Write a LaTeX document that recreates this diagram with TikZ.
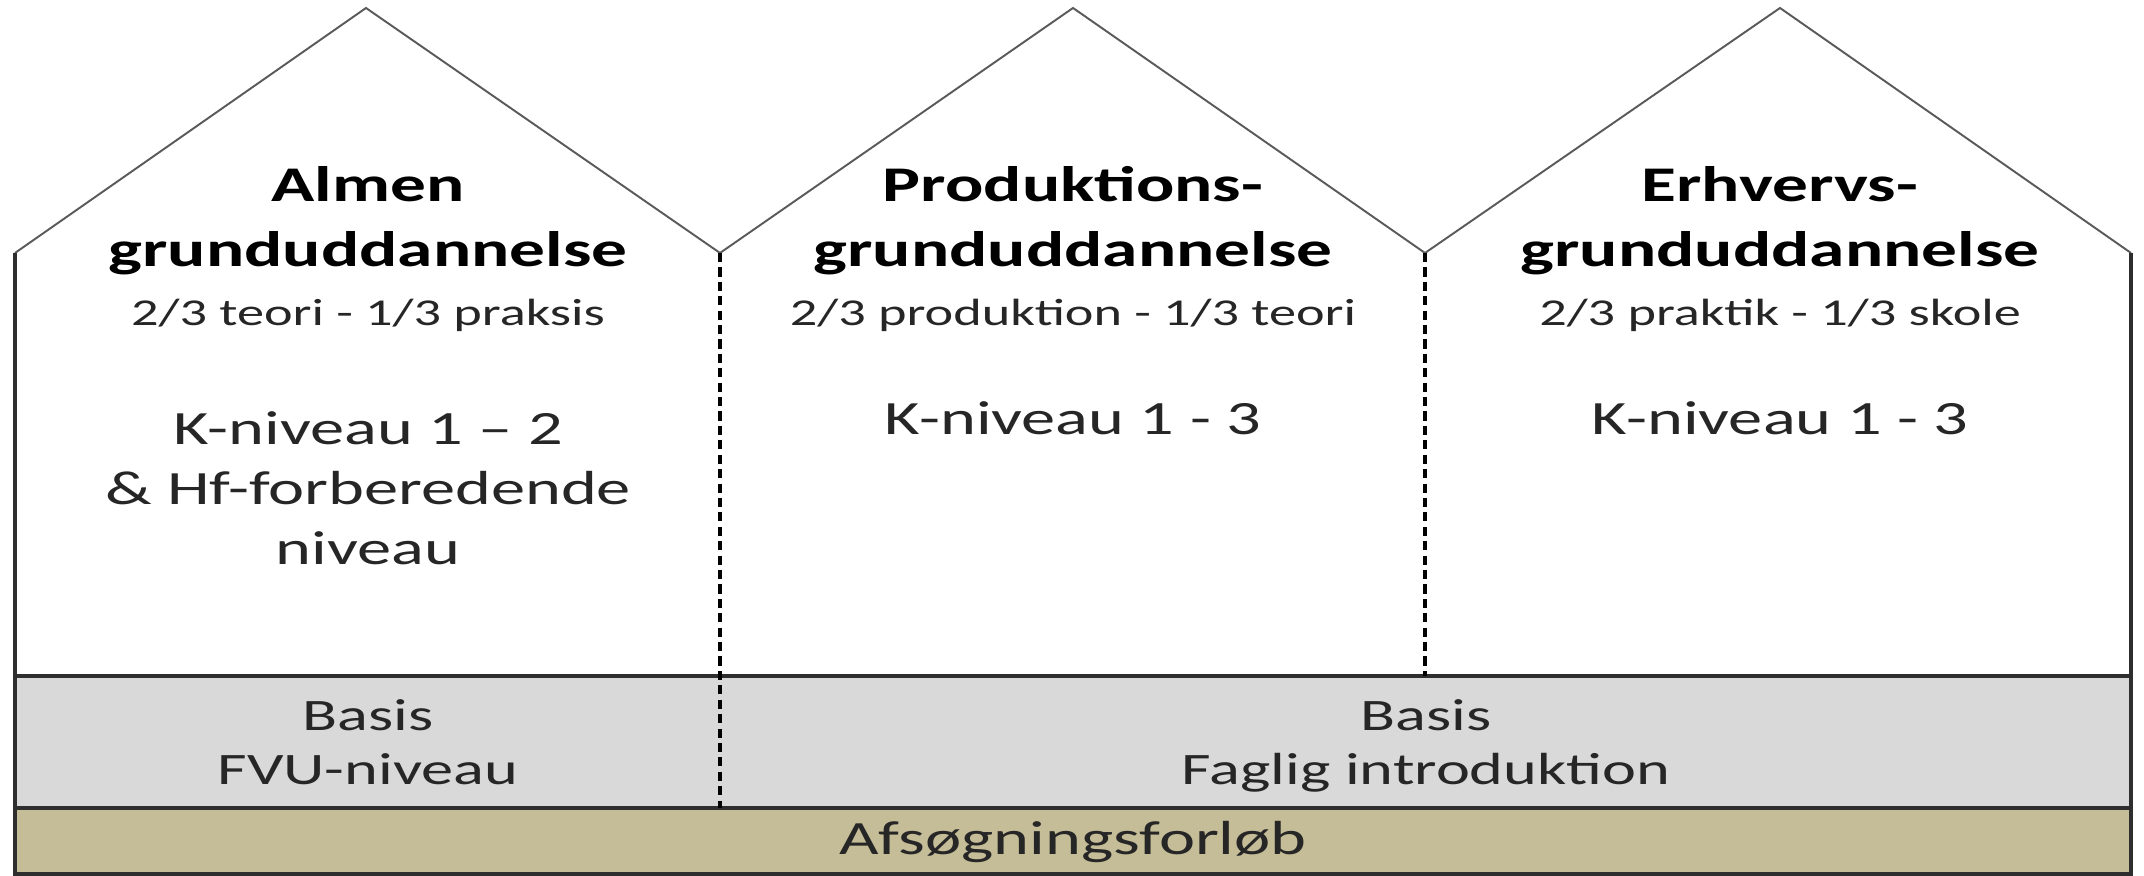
\documentclass[tikz,border=0pt]{standalone}
\usepackage{fontspec}
\setmainfont{Carlito}
\usepackage{graphicx}
\usepackage{tikz}
\definecolor{roof}{HTML}{5A5A5A}
\definecolor{edge}{HTML}{2E2E2E}
\definecolor{ink}{HTML}{262626}
\definecolor{basis}{HTML}{D9D9D9}
\definecolor{afs}{HTML}{C4BD97}
\newcommand{\wide}[1]{\scalebox{1.43}[1]{#1}}
\tikzset{
  roofline/.style={draw=roof, line width=0.55pt, line join=miter},
  wall/.style={draw=edge, line width=0.95pt},
  divider/.style={draw=black, line width=0.95pt, dash pattern=on 2.6pt off 1.5pt},
  head/.style={anchor=base, inner sep=0pt, font=\fontsize{14.2}{17}\selectfont\bfseries},
  mix/.style={anchor=base, inner sep=0pt, text=ink, font=\fontsize{10.8}{13}\selectfont},
  lab/.style={anchor=base, inner sep=0pt, text=ink, font=\fontsize{13.6}{16}\selectfont},
  bandlab/.style={anchor=base, inner sep=0pt, text=ink, font=\fontsize{12.8}{15}\selectfont},
}
\begin{document}
\begin{tikzpicture}
  \useasboundingbox (0,0) rectangle (21.44,8.76);

  % house row
  \coordinate (BL) at (0.15,0.02);
  \coordinate (BR) at (21.31,0.02);
  \coordinate (EL) at (0.15,6.23);
  \coordinate (ER) at (21.31,6.23);
  \coordinate (V1) at (7.20,6.23);
  \coordinate (V2) at (14.25,6.23);
  \coordinate (P1) at (3.66,8.68);
  \coordinate (P2) at (10.73,8.68);
  \coordinate (P3) at (17.80,8.68);

  % band edges
  \coordinate (AL) at (0.15,0.68);
  \coordinate (AR) at (21.31,0.68);
  \coordinate (GL) at (0.15,2.00);
  \coordinate (GR) at (21.31,2.00);
  \coordinate (D1) at (7.20,0.68);
  \coordinate (D2) at (14.25,2.00);

  \fill[afs] (BL) rectangle (AR);
  \fill[basis] (AL) rectangle (GR);
  \draw[wall] (AL) -- (AR);
  \draw[wall] (GL) -- (GR);

  \draw[roofline] (EL) -- (P1) -- (V1) -- (P2) -- (V2) -- (P3) -- (ER);
  \draw[wall] (EL) -- (BL) -- (BR) -- (ER);

  \draw[divider] (V1) -- (D1);
  \draw[divider] (V2) -- (D2);

  % almen
  \node[head] (almen) at (3.68,6.74) {\wide{Almen}};
  \node[head] (almengrund) at (3.68,6.09) {\wide{grunduddannelse}};
  \node[mix] (almenmix) at (3.68,5.50) {\wide{2/3 teori - 1/3 praksis}};
  \node[lab] (almenk) at (3.68,4.31) {\wide{K-niveau 1 – 2}};
  \node[lab] (almenhf) at (3.68,3.71) {\wide{\& Hf-forberedende}};
  \node[lab] (almenniv) at (3.68,3.11) {\wide{niveau}};

  % produktion
  \node[head] (prod) at (10.73,6.74) {\wide{Produktions-}};
  \node[head] (prodgrund) at (10.73,6.09) {\wide{grunduddannelse}};
  \node[mix] (prodmix) at (10.73,5.50) {\wide{2/3 produktion - 1/3 teori}};
  \node[lab] (prodk) at (10.73,4.41) {\wide{K-niveau 1 - 3}};

  % erhverv
  \node[head] (erhv) at (17.80,6.74) {\wide{Erhvervs-}};
  \node[head] (erhvgrund) at (17.80,6.09) {\wide{grunduddannelse}};
  \node[mix] (erhvmix) at (17.80,5.50) {\wide{2/3 praktik - 1/3 skole}};
  \node[lab] (erhvk) at (17.80,4.41) {\wide{K-niveau 1 - 3}};

  % basis
  \node[bandlab] (basisa) at (3.68,1.45) {\wide{Basis}};
  \node[bandlab] (fvu) at (3.68,0.91) {\wide{FVU-niveau}};
  \node[bandlab] (basisb) at (14.26,1.45) {\wide{Basis}};
  \node[bandlab] (faglig) at (14.26,0.91) {\wide{Faglig introduktion}};

  \node[lab] (afsoeg) at (10.73,0.21) {\wide{Afsøgningsforløb}};
\end{tikzpicture}
\end{document}
